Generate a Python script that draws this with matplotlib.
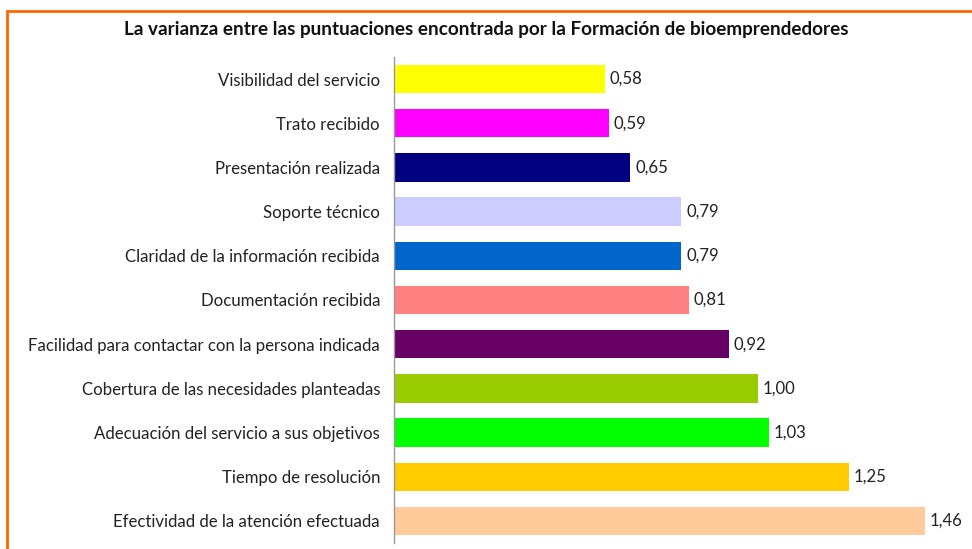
import matplotlib.pyplot as plt
from matplotlib.patches import Rectangle

plt.rcParams['font.family'] = ['Lato', 'DejaVu Sans']

categories = [
    'Visibilidad del servicio',
    'Trato recibido',
    'Presentación realizada',
    'Soporte técnico',
    'Claridad de la información recibida',
    'Documentación recibida',
    'Facilidad para contactar con la persona indicada',
    'Cobertura de las necesidades planteadas',
    'Adecuación del servicio a sus objetivos',
    'Tiempo de resolución',
    'Efectividad de la atención efectuada',
]
values = [0.58, 0.59, 0.65, 0.79, 0.79, 0.81, 0.92, 1.00, 1.03, 1.25, 1.46]
colors = ['#FFFF00', '#FF00FF', '#000080', '#CCCCFF', '#0066CC', '#FF8080',
          '#660066', '#99CC00', '#00FF00', '#FFCC00', '#FFCC99']
title = 'La varianza entre las puntuaciones encontrada por la Formación de bioemprendedores'

W, H = 972, 549
fig = plt.figure(figsize=(W / 100, H / 100), dpi=100)

# orange frame, cropped on the right and bottom
fig.patches.append(Rectangle((7 / W, -0.1), 1.2, 1 - 11 / H + 0.1, transform=fig.transFigure,
                             fill=False, edgecolor='#FF6600', linewidth=2))

ax = fig.add_axes([394 / W, 1 - 543 / H, (W - 394) / W, (543 - 57) / H])
y = list(range(len(categories)))
ax.barh(y, values, height=0.64, color=colors)
ax.set_ylim(len(categories) - 0.5, -0.5)
ax.set_xlim(0, (W - 394) / 363.7)
ax.set_yticks(y)
ax.set_yticklabels(categories, fontsize=12.1, color='#222222')
ax.tick_params(axis='y', length=0, pad=10)
ax.set_xticks([])
for s in ['top', 'right', 'bottom']:
    ax.spines[s].set_visible(False)
ax.spines['left'].set_color('#999999')
ax.spines['left'].set_linewidth(1)
for yi, v in zip(y, values):
    ax.text(v + 0.013, yi, f'{v:.2f}'.replace('.', ','), va='center', ha='left',
            fontsize=12.1, color='#222222')

fig.text(486 / W, 1 - 30 / H, title, ha='center', va='center', fontsize=13.6,
         fontweight='bold', color='#111111')

fig.savefig('out.png', dpi=100)
